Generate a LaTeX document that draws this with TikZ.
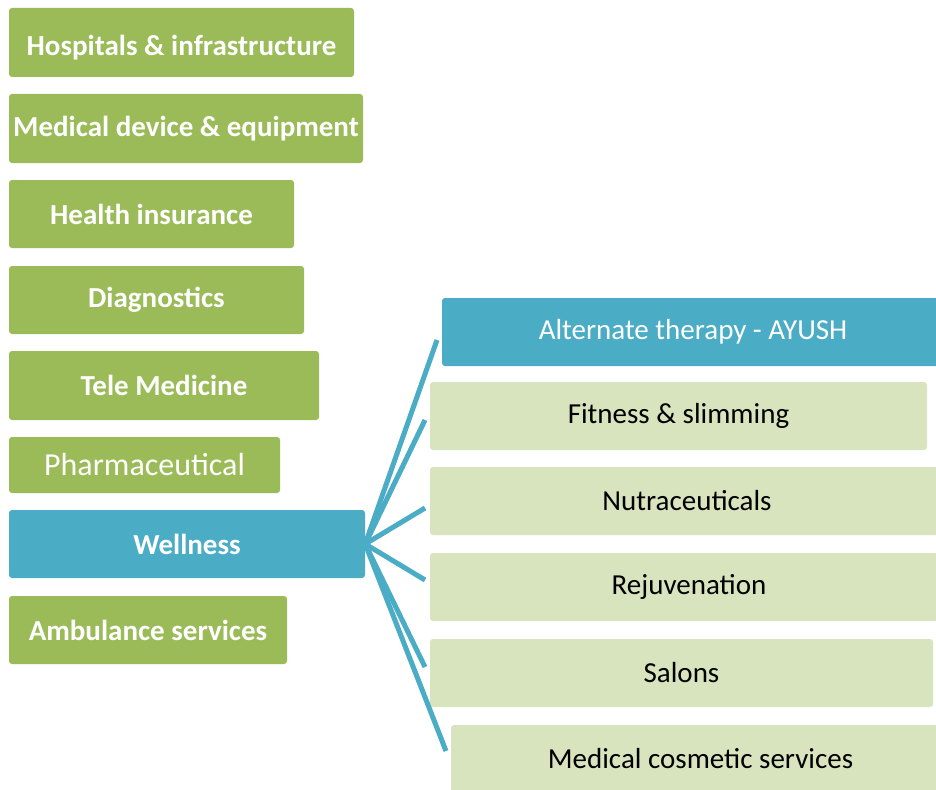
\documentclass[tikz,border=0pt]{standalone}
\usepackage{fontspec}
\setmainfont{Carlito}
\definecolor{ggreen}{HTML}{9BBB59}
\definecolor{gblue}{HTML}{4BACC6}
\definecolor{lgreen}{HTML}{D8E4BD}
\begin{document}
\begin{tikzpicture}[x=1pt,y=-1pt,
  box/.style={rectangle,rounded corners=3pt,inner sep=0pt,font=\fontsize{29}{34}\selectfont},
  gbox/.style={box,fill=ggreen,text=white,font=\fontsize{29}{34}\selectfont\bfseries},
  wbox/.style={box,fill=gblue,text=white,font=\fontsize{29}{34}\selectfont\bfseries},
  lbox/.style={box,fill=lgreen,text=black},
  abox/.style={box,fill=gblue,text=white},
  link/.style={draw=gblue,line width=5pt}]
\useasboundingbox (0,0) rectangle (936,789);
\clip (0,0) rectangle (936,789);
\fill[white] (0,0) rectangle (936,789);
% left column
\node[gbox,minimum width=345pt,minimum height=69pt] (hosp) at (181.5,42.5) {\raisebox{-5pt}[\height][\depth]{Hospitals \& infrastructure}};
\node[gbox,minimum width=354pt,minimum height=69pt] (med) at (186,128.5) {Medical device \& equipment};
\node[gbox,minimum width=285pt,minimum height=68pt] (ins) at (151.5,214) {Health insurance};
\node[gbox,minimum width=295pt,minimum height=68pt] (diag) at (156.5,300) {Diagnostics};
\node[gbox,minimum width=310pt,minimum height=69pt] (tele) at (164,385.5) {Tele Medicine};
\node[box,fill=ggreen,text=white,minimum width=271pt,minimum height=56pt,font=\fontsize{32}{38}\selectfont] (pharm) at (144.5,465) {Pharmaceutical};
\node[wbox,minimum width=356pt,minimum height=68pt] (well) at (187,544) {Wellness};
\node[gbox,minimum width=278pt,minimum height=68pt] (amb) at (148,630) {Ambulance services};
% right column
\node[abox,minimum width=502pt,minimum height=68pt] (alt) at (693,332) {Alternate therapy - AYUSH};
\node[lbox,minimum width=497pt,minimum height=68pt] (fit) at (678.5,416) {Fitness \& slimming};
\node[lbox,minimum width=514pt,minimum height=68pt] (nut) at (687,501) {Nutraceuticals};
\node[lbox,minimum width=518pt,minimum height=68pt] (rej) at (689,587) {Rejuvenation};
\node[lbox,minimum width=503pt,minimum height=68pt] (sal) at (681.5,673) {Salons};
\node[lbox,minimum width=499pt,minimum height=68pt] (mcs) at (700.5,759) {Medical cosmetic services};
% connector ends
\coordinate (e1) at (437,340);
\coordinate (e2) at (425,420);
\coordinate (e3) at (425,508);
\coordinate (e4) at (425,580);
\coordinate (e5) at (425,667);
\coordinate (e6) at (446,751);
\foreach \e in {e1,e2,e3,e4,e5,e6}
  \draw[link] (well.east) -- (\e);
\end{tikzpicture}
\end{document}
